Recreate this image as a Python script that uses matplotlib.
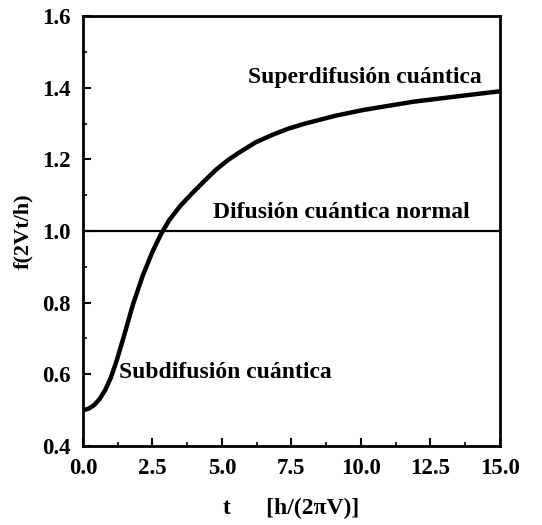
import matplotlib
matplotlib.use("Agg")
import matplotlib.pyplot as plt
from matplotlib.ticker import MultipleLocator

# curve
t_vals = [0.0, 0.2, 0.4, 0.6, 0.8, 1.0, 1.2, 1.45, 1.8, 2.15, 2.5, 2.8,
          3.1, 3.5, 3.9, 4.4, 4.8, 5.2, 5.6, 6.2, 6.8, 7.4, 8.0, 9.1,
          10.1, 11.9, 13.7, 15.0]
f_vals = [0.50, 0.504, 0.514, 0.531, 0.556, 0.59, 0.635, 0.70, 0.795, 0.875,
          0.942, 0.99, 1.03, 1.07, 1.103, 1.142, 1.172, 1.197, 1.218, 1.247,
          1.268, 1.286, 1.30, 1.322, 1.338, 1.361, 1.378, 1.39]
normal_level = 1.0

x_ticks = [0.0, 2.5, 5.0, 7.5, 10.0, 12.5, 15.0]
y_ticks = [0.4, 0.6, 0.8, 1.0, 1.2, 1.4, 1.6]

plt.rcParams["font.family"] = ["Liberation Serif", "DejaVu Serif"]
plt.rcParams["font.weight"] = "bold"

fig = plt.figure(figsize=(5.42, 5.25), dpi=100)
ax = fig.add_axes([0.153, 0.1505, 0.7695, 0.819])

ax.plot(t_vals, f_vals, color="black", lw=3.2,
        solid_capstyle="round", solid_joinstyle="round")
ax.axhline(normal_level, color="black", lw=1.6)

ax.set_xlim(0, 15)
ax.set_ylim(0.4, 1.6)
ax.set_xticks(x_ticks)
ax.set_yticks(y_ticks)
ax.set_xticklabels([f"{v:.1f}" for v in x_ticks])
ax.set_yticklabels([f"{v:.1f}" for v in y_ticks])
ax.xaxis.set_minor_locator(MultipleLocator(1.25))
ax.yaxis.set_minor_locator(MultipleLocator(0.1))
ax.tick_params(which="major", direction="in", length=6, width=1.5,
               labelsize=16.5, pad=9)
ax.tick_params(which="minor", direction="in", length=3, width=1.2)

for s in ax.spines.values():
    s.set_linewidth(2)

ax.set_ylabel("f(2Vt/h)", fontsize=16, fontweight="bold", labelpad=6)
ax.set_xlabel("t      [h/(2\u03c0V)]", fontsize=17, fontweight="bold", labelpad=13)

ax.text(5.94, 1.413, "Superdifusi\u00f3n cu\u00e1ntica", fontsize=17, fontweight="bold")
ax.text(4.68, 1.036, "Difusi\u00f3n cu\u00e1ntica normal", fontsize=17, fontweight="bold")
ax.text(1.3, 0.59, "Subdifusi\u00f3n cu\u00e1ntica", fontsize=17, fontweight="bold")

fig.savefig("out.png", dpi=100)
